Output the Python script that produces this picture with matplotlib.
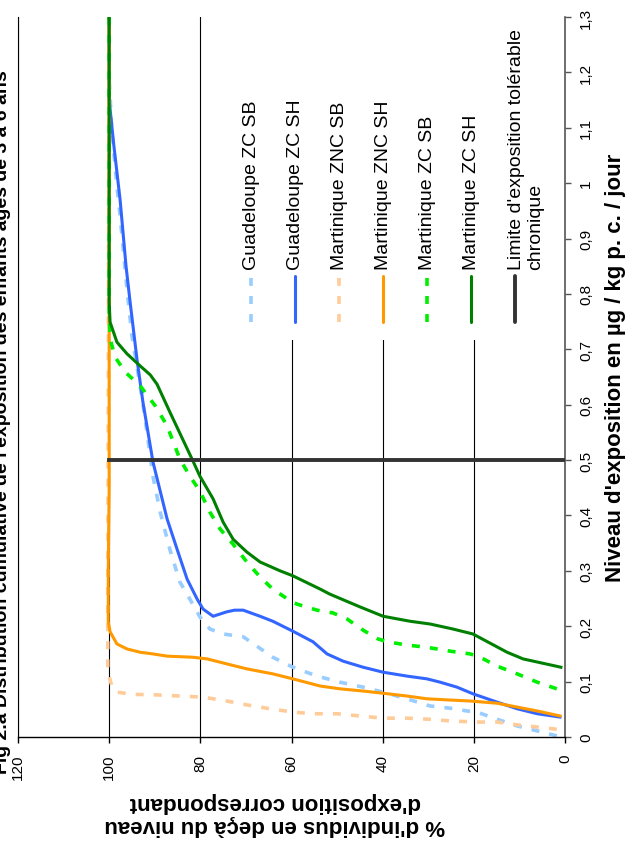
import matplotlib
matplotlib.use("Agg")
import matplotlib.pyplot as plt
from matplotlib.patches import Rectangle

plt.rcParams['font.family'] = ['Liberation Sans', 'DejaVu Sans']

# --- data (% of individuals below exposure level, exposure in ug/kg bw/day) ---
gzc_sb_pct = [1.8, 6.1, 10.5, 14.9, 19.3, 21.5, 25.2, 29.6, 34.7, 39.9, 44.3, 49.4, 54.4, 59.7, 64.1, 67.6,
              70.6, 75.0, 77.9, 80.1, 82.3, 84.5, 86.7, 88.8, 90.4, 92.1, 93.2, 95.0, 96.1, 97.6, 98.3, 99.4,
              100.0, 100.0]
gzc_sb_exp = [0.002, 0.011, 0.020, 0.032, 0.045, 0.047, 0.052, 0.056, 0.069, 0.081, 0.090, 0.099, 0.110, 0.126,
              0.144, 0.164, 0.181, 0.186, 0.195, 0.217, 0.249, 0.280, 0.339, 0.406, 0.471, 0.574, 0.634, 0.724,
              0.809, 0.941, 0.995, 1.092, 1.19, 1.3]

gzc_sh_pct = [1.1, 6.1, 10.5, 14.9, 20.2, 23.7, 27.4, 30.3, 34.7, 39.9, 44.3, 48.7, 52.2, 55.3, 59.7, 64.1,
              66.9, 70.6, 72.5, 74.2, 77.2, 79.4, 80.7, 82.9, 85.1, 87.3, 90.4, 92.6, 93.9, 95.4, 96.3, 97.6,
              99.0, 100.0, 100.0]
gzc_sh_exp = [0.036, 0.042, 0.051, 0.063, 0.078, 0.090, 0.099, 0.105, 0.110, 0.117, 0.126, 0.137, 0.150, 0.172,
              0.191, 0.209, 0.218, 0.229, 0.229, 0.226, 0.218, 0.231, 0.249, 0.285, 0.339, 0.394, 0.497, 0.605,
              0.682, 0.785, 0.85, 0.97, 1.07, 1.15, 1.3]

mznc_sb_pct = [1.8, 6.1, 10.5, 14.9, 19.3, 25.2, 29.6, 34.7, 39.9, 45.0, 50.0, 55.3, 59.7, 64.7, 69.8, 74.2,
               79.4, 84.5, 89.5, 94.8, 98.3, 99.4, 100.3, 100.3, 100.0]
mznc_sb_exp = [0.014, 0.018, 0.022, 0.027, 0.027, 0.029, 0.032, 0.034, 0.034, 0.038, 0.042, 0.042, 0.045, 0.051,
               0.058, 0.065, 0.072, 0.074, 0.076, 0.077, 0.081, 0.092, 0.117, 0.25, 1.3]

mznc_sh_pct = [1.1, 6.1, 10.5, 14.9, 20.8, 25.9, 30.3, 34.7, 39.9, 44.3, 49.4, 53.7, 59.7, 64.1, 69.8, 74.2,
               78.5, 81.6, 87.3, 90.4, 93.2, 96.1, 98.3, 99.8, 100.2, 100.2, 100.0, 100.0]
mznc_sh_exp = [0.038, 0.047, 0.054, 0.061, 0.065, 0.067, 0.069, 0.074, 0.079, 0.083, 0.087, 0.092, 0.105, 0.114,
               0.123, 0.132, 0.141, 0.144, 0.146, 0.150, 0.153, 0.159, 0.168, 0.190, 0.208, 0.30, 0.45, 1.3]

mzc_sb_pct = [1.8, 6.1, 10.5, 14.9, 18.6, 20.8, 25.2, 30.3, 34.7, 39.0, 41.0, 44.3, 47.8, 50.9, 54.4, 58.8,
              60.3, 64.1, 66.9, 69.8, 72.8, 75.7, 77.9, 80.1, 82.3, 84.5, 87.3, 89.9, 93.2, 96.5, 98.7, 99.8,
              100.0, 100.0]
mzc_sb_exp = [0.087, 0.099, 0.114, 0.128, 0.144, 0.150, 0.155, 0.162, 0.166, 0.172, 0.177, 0.193, 0.213, 0.224,
              0.229, 0.240, 0.246, 0.267, 0.289, 0.316, 0.348, 0.376, 0.406, 0.444, 0.471, 0.502, 0.562, 0.598,
              0.634, 0.659, 0.686, 0.719, 0.764, 1.3]

mzc_sh_pct = [0.9, 9.2, 12.7, 20.2, 24.6, 29.6, 34.0, 39.9, 45.0, 51.6, 53.7, 59.7, 62.5, 66.9, 69.8, 72.8,
              75.0, 77.2, 80.1, 81.6, 86.7, 89.5, 91.0, 93.2, 96.1, 98.3, 99.8, 100.0, 100.0]
mzc_sh_exp = [0.126, 0.141, 0.153, 0.186, 0.195, 0.204, 0.209, 0.218, 0.235, 0.258, 0.267, 0.291, 0.300, 0.316,
              0.334, 0.357, 0.388, 0.430, 0.471, 0.498, 0.587, 0.637, 0.654, 0.670, 0.692, 0.713, 0.749, 0.785,
              1.3]

limit_pct = [0, 100]
limit_exp = [0.5, 0.5]

labels = ["Guadeloupe ZC SB", "Guadeloupe ZC SH", "Martinique ZNC SB", "Martinique ZNC SH",
          "Martinique ZC SB", "Martinique ZC SH", "Limite d'exposition tolérable\nchronique"]

pct_ticks = [0, 20, 40, 60, 80, 100, 120]
exp_ticks = [0, 0.1, 0.2, 0.3, 0.4, 0.5, 0.6, 0.7, 0.8, 0.9, 1.0, 1.1, 1.2, 1.3]
exp_ticklabels = ["0", "0,1", "0,2", "0,3", "0,4", "0,5", "0,6", "0,7", "0,8", "0,9", "1", "1,1", "1,2", "1,3"]

title = "Fig 2.a Distribution cumulative de l'exposition des enfants âgés de 3 à 6 ans"

# styles
dash = (0, (2.2, 2.8))
series = [
    (gzc_sb_pct, gzc_sb_exp, "#99CCFF", dash, 2.6),
    (gzc_sh_pct, gzc_sh_exp, "#3366FF", "-", 2.2),
    (mznc_sb_pct, mznc_sb_exp, "#FFCC99", dash, 2.6),
    (mznc_sh_pct, mznc_sh_exp, "#FF9900", "-", 2.2),
    (mzc_sb_pct, mzc_sb_exp, "#00EE00", dash, 2.6),
    (mzc_sh_pct, mzc_sh_exp, "#008000", "-", 2.2),
    (limit_pct, limit_exp, "#333333", "-", 2.8),
]

# chart is drawn rotated: % runs right->left, exposure bottom->top
fig = plt.figure(figsize=(6.32, 8.45), dpi=100)
ax = fig.add_axes([18 / 632, 107 / 845, 547 / 632, 720 / 845])

ax.set_xlim(120, 0)
ax.set_ylim(0, 1.3)
ax.set_axisbelow(True)
ax.grid(axis="x", color="black", lw=0.8)

# white legend area hides the grid
ax.add_patch(Rectangle((0.36, 0.551), 0.64, 0.449, transform=ax.transAxes,
                       facecolor="white", edgecolor="none", zorder=1))

for i, (x, y, c, ls, lw) in enumerate(series):
    ax.plot(x, y, color=c, ls=ls, lw=lw, zorder=2 + i * 0.1,
            solid_joinstyle="round", dash_joinstyle="round")

# legend drawn by hand (rotated)
for i, (lab, (_, _, c, ls, lw)) in enumerate(zip(labels, series)):
    lx = 0.426 + i * 0.0805
    ax.plot([lx, lx], [0.576, 0.640], color=c, ls=ls, lw=lw, transform=ax.transAxes,
            zorder=3, solid_capstyle="round")
    tx = lx + (0.02 if "\n" in lab else 0)
    ax.text(tx, 0.65, lab, rotation=90, ha="center", va="bottom", fontsize=14,
            multialignment="left", transform=ax.transAxes, zorder=3)

# axes decoration
ax.spines["top"].set_visible(False)
ax.spines["left"].set_color("black")
ax.spines["left"].set_linewidth(0.8)
ax.spines["bottom"].set_color("black")
ax.spines["bottom"].set_linewidth(1.0)
ax.spines["right"].set_color("#555555")
ax.spines["right"].set_linewidth(1.2)

ax.set_xticks(pct_ticks)
ax.set_xticklabels([str(t) for t in pct_ticks], rotation=90, fontsize=11)
ax.yaxis.tick_right()
ax.set_yticks(exp_ticks)
ax.set_yticklabels(exp_ticklabels, rotation=90, va="center", fontsize=11)
ax.tick_params(axis="x", direction="out", length=4, width=1, pad=8, color="black")
ax.tick_params(axis="y", direction="out", length=4, width=1, pad=6, color="#555555")

fig.text(615 / 632, 1 - 368 / 845, "Niveau d'exposition en µg / kg p. c. / jour",
         rotation=90, ha="center", va="center", fontsize=16, fontweight="bold")
fig.text(275 / 632, 1 - 814 / 845, "% d'individus en deçà du niveau\nd'exposition correspondant",
         rotation=180, ha="center", va="center", fontsize=16, fontweight="bold", linespacing=1.1)
fig.text(3 / 632, 0.5, title, rotation=90, ha="center", va="center", fontsize=14, fontweight="bold")

fig.savefig("out.png", dpi=100)
